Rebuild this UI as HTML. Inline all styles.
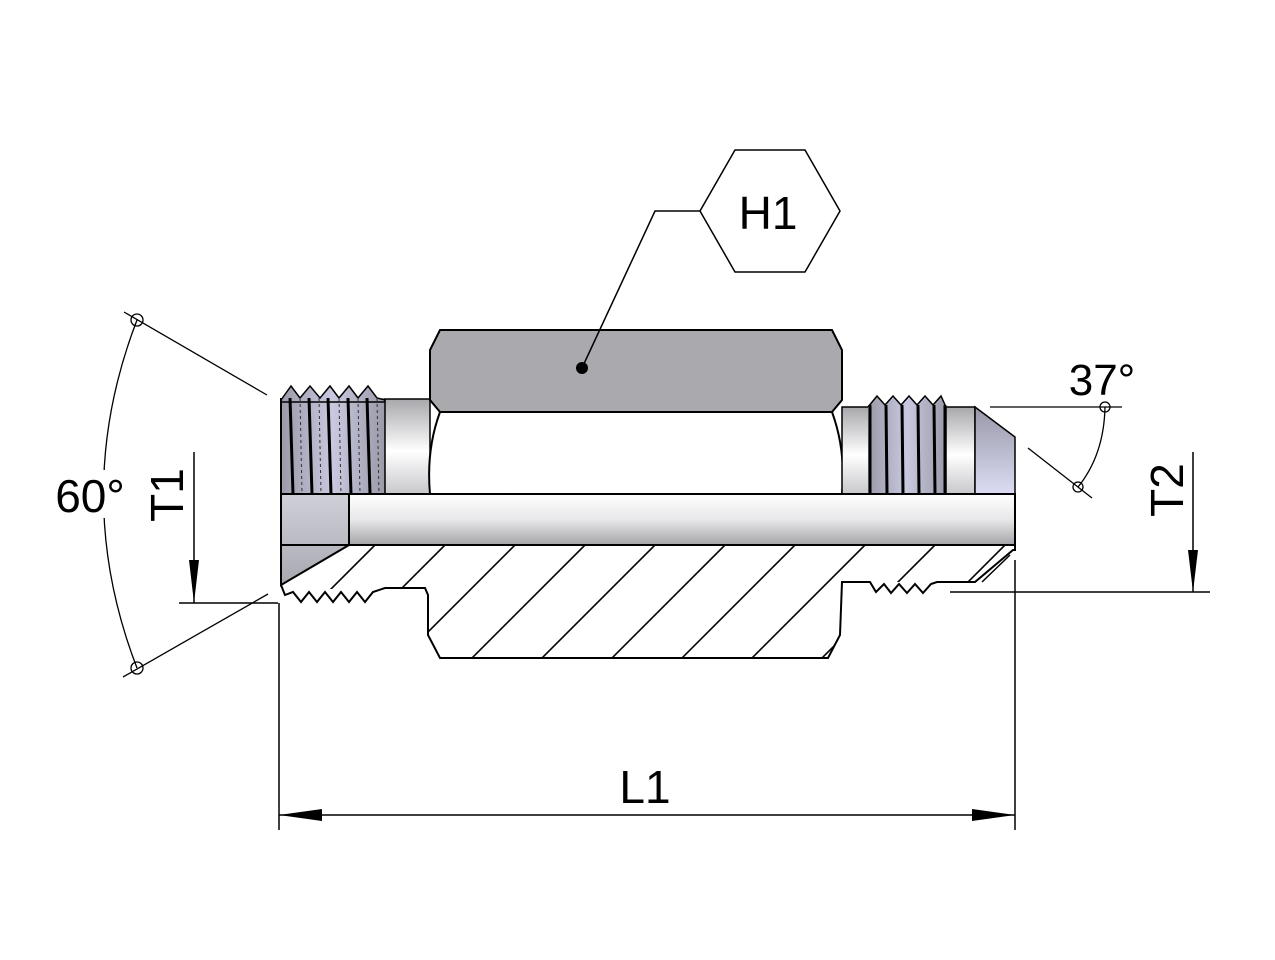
<!DOCTYPE html>
<html><head><style>
html,body{margin:0;padding:0;background:#fff;}
svg{display:block;}
text{font-family:"Liberation Sans","DejaVu Sans",sans-serif;fill:#000;}
</style></head><body>
<svg width="1275" height="960" viewBox="0 0 1275 960" xmlns="http://www.w3.org/2000/svg">
<defs>
<linearGradient id="cyl" x1="0" y1="0" x2="0" y2="1">
<stop offset="0" stop-color="#a8a8ac"/><stop offset="0.55" stop-color="#ffffff"/><stop offset="1" stop-color="#c8c8cc"/>
</linearGradient>
<linearGradient id="bore" x1="0" y1="0" x2="0" y2="1">
<stop offset="0" stop-color="#ffffff"/><stop offset="0.5" stop-color="#e8e8ea"/><stop offset="1" stop-color="#a4a4a8"/>
</linearGradient>
<linearGradient id="thr" x1="0" y1="0" x2="1" y2="0">
<stop offset="0" stop-color="#9a9aa8"/><stop offset="0.5" stop-color="#c8c8e0"/><stop offset="1" stop-color="#9a9aa8"/>
</linearGradient>
<linearGradient id="cone" x1="0" y1="0" x2="0" y2="1">
<stop offset="0" stop-color="#d0d0d8"/><stop offset="1" stop-color="#a8a8b0"/>
</linearGradient>
<linearGradient id="cone2" x1="0" y1="0" x2="0" y2="1">
<stop offset="0" stop-color="#9898a8"/><stop offset="1" stop-color="#dcdcf4"/>
</linearGradient>
<clipPath id="sec"><path d="M281,545 L1015,545 L1015,550 L975,582 L937,582 L870,582 L842,582 L840,635 L828,658 L440,658 L428,635 L428,590 L385,588 L283,590 Z"/></clipPath>
</defs>

<!-- left thread -->
<rect x="281" y="398" width="104" height="96" fill="url(#thr)"/>
<path d="M281,400 L291,386 L300,398 L310,386 L320,398 L330,386 L339,398 L349,386 L358,398 L368,386 L377,398 L385,400 L385,402 L281,402 Z" fill="url(#thr)" stroke="#000" stroke-width="1.5"/>
<g stroke="#000" stroke-width="3">
<line x1="290" y1="398" x2="293" y2="494"/><line x1="309" y1="398" x2="312" y2="494"/>
<line x1="328" y1="398" x2="331" y2="494"/><line x1="348" y1="398" x2="351" y2="494"/>
<line x1="367" y1="398" x2="370" y2="494"/>
</g>
<g stroke="#333" stroke-width="1" stroke-dasharray="3,3">
<line x1="300" y1="398" x2="302" y2="494"/><line x1="319" y1="398" x2="321" y2="494"/>
<line x1="339" y1="398" x2="341" y2="494"/><line x1="358" y1="398" x2="360" y2="494"/>
<line x1="377" y1="398" x2="379" y2="494"/>
</g>
<line x1="281" y1="398" x2="281" y2="494" stroke="#000" stroke-width="2"/>
<rect x="385" y="399" width="45" height="95" fill="url(#cyl)" stroke="#000" stroke-width="1.5"/>

<!-- hex -->
<path d="M440,412 Q426,450 430,494 L842,494 Q846,450 832,412 Z" fill="#fff" stroke="#000" stroke-width="2"/>
<path d="M440,330 L832,330 L842,350 L842,400 L832,412 L440,412 L430,400 L430,350 Z" fill="#a9a9ae" stroke="#000" stroke-width="2"/>

<!-- right side -->
<rect x="842" y="407" width="28" height="87" fill="url(#cyl)" stroke="#000" stroke-width="1.5"/>
<rect x="868" y="405" width="78" height="89" fill="url(#thr)"/>
<path d="M868,407 L877,396 L885,405 L893,396 L901,405 L909,396 L917,405 L925,396 L933,405 L941,396 L946,407" fill="url(#thr)" stroke="#000" stroke-width="1.5"/>
<g stroke="#000" stroke-width="3">
<line x1="870" y1="405" x2="870" y2="494"/><line x1="886" y1="405" x2="887" y2="494"/>
<line x1="902" y1="405" x2="903" y2="494"/><line x1="918" y1="405" x2="919" y2="494"/>
<line x1="934" y1="405" x2="935" y2="494"/><line x1="945" y1="405" x2="945" y2="494"/>
</g>
<rect x="946" y="407" width="29" height="87" fill="url(#cyl)" stroke="#000" stroke-width="1.5"/>
<path d="M975,407 L1015,437 L1015,494 L975,494 Z" fill="url(#cone2)" stroke="#000" stroke-width="1.5"/>

<!-- bore -->
<rect x="349" y="494" width="666" height="51" fill="url(#bore)" stroke="#000" stroke-width="2"/>
<path d="M281,494 L349,494 L349,545 L281,585 Z" fill="url(#cone)" stroke="#000" stroke-width="2"/>

<!-- section hatch: 45deg, spacing 70 -->
<g clip-path="url(#sec)" stroke="#000" stroke-width="1.6">
<line x1="375" y1="545" x2="260" y2="660"/>
<line x1="445" y1="545" x2="330" y2="660"/>
<line x1="515" y1="545" x2="400" y2="660"/>
<line x1="585" y1="545" x2="470" y2="660"/>
<line x1="655" y1="545" x2="540" y2="660"/>
<line x1="725" y1="545" x2="610" y2="660"/>
<line x1="795" y1="545" x2="680" y2="660"/>
<line x1="865" y1="545" x2="750" y2="660"/>
<line x1="935" y1="545" x2="820" y2="660"/>
<line x1="1005" y1="545" x2="890" y2="660"/>
</g>
<path d="M281,585 L285,595 L293,592 L301,602 L309,592 L317,602 L325,592 L333,602 L341,592 L349,602 L357,592 L365,602 L373,592 L385,588 L425,588 L428,595 L428,635 L440,658 L828,658 L840,635 L842,582 L870,582 L876,592 L884,584 L891,593 L899,584 L907,593 L915,584 L923,593 L931,584 L937,582 L975,582 L1013,550 L1015,550 L1015,545" fill="none" stroke="#000" stroke-width="2"/>
<line x1="281" y1="545" x2="1015" y2="545" stroke="#000" stroke-width="2"/>
<line x1="982" y1="582" x2="1010" y2="555" stroke="#000" stroke-width="1.5"/>

<!-- H1 -->
<polygon points="735,150 805,150 840,211 805,272 735,272 700,211" fill="#fff" stroke="#000" stroke-width="1.5"/>
<text x="768" y="229" font-size="46" text-anchor="middle">H1</text>
<polyline points="700,211 655,211 582,368" fill="none" stroke="#000" stroke-width="1.5"/>
<circle cx="582" cy="368" r="6" fill="#000"/>

<!-- L1 -->
<g stroke="#000" stroke-width="1.5">
<line x1="279" y1="603" x2="279" y2="830"/>
<line x1="1015" y1="560" x2="1015" y2="830"/>
<line x1="279" y1="815" x2="1015" y2="815"/>
</g>
<polygon points="279,815 322,809 322,821" fill="#000"/>
<polygon points="1015,815 972,809 972,821" fill="#000"/>
<text x="645" y="803" font-size="46" text-anchor="middle">L1</text>

<!-- T1 -->
<g stroke="#000" stroke-width="1.5">
<line x1="194" y1="452" x2="194" y2="603"/>
<line x1="179" y1="603" x2="278" y2="603"/>
</g>
<polygon points="194,603 189,560 199,560" fill="#000"/>
<text transform="translate(183,495) rotate(-90)" font-size="46" text-anchor="middle">T1</text>

<!-- T2 -->
<g stroke="#000" stroke-width="1.5">
<line x1="1193" y1="452" x2="1193" y2="592"/>
<line x1="950" y1="592" x2="1210" y2="592"/>
</g>
<polygon points="1193,592 1188,550 1198,550" fill="#000"/>
<text transform="translate(1183,490) rotate(-90)" font-size="46" text-anchor="middle">T2</text>

<!-- 60 deg -->
<g stroke="#000" stroke-width="1.3" fill="none">
<line x1="124" y1="312" x2="267" y2="395"/>
<line x1="123" y1="677" x2="268" y2="594"/>
<path d="M137,320 Q70,494 137,668"/>
<circle cx="137" cy="320" r="6"/>
<circle cx="137" cy="668" r="6"/>
</g>
<rect x="55" y="470" width="72" height="48" fill="#fff"/>
<text x="90" y="512" font-size="46" text-anchor="middle">60°</text>

<!-- 37 deg -->
<g stroke="#000" stroke-width="1.3" fill="none">
<line x1="990" y1="407" x2="1122" y2="407"/>
<line x1="1028" y1="448" x2="1092" y2="498"/>
<path d="M1105,407 Q1104,455 1078,487"/>
<circle cx="1105" cy="407" r="5"/>
<circle cx="1078" cy="487" r="5"/>
</g>
<text x="1102" y="395" font-size="44" text-anchor="middle">37°</text>
</svg>
</body></html>
